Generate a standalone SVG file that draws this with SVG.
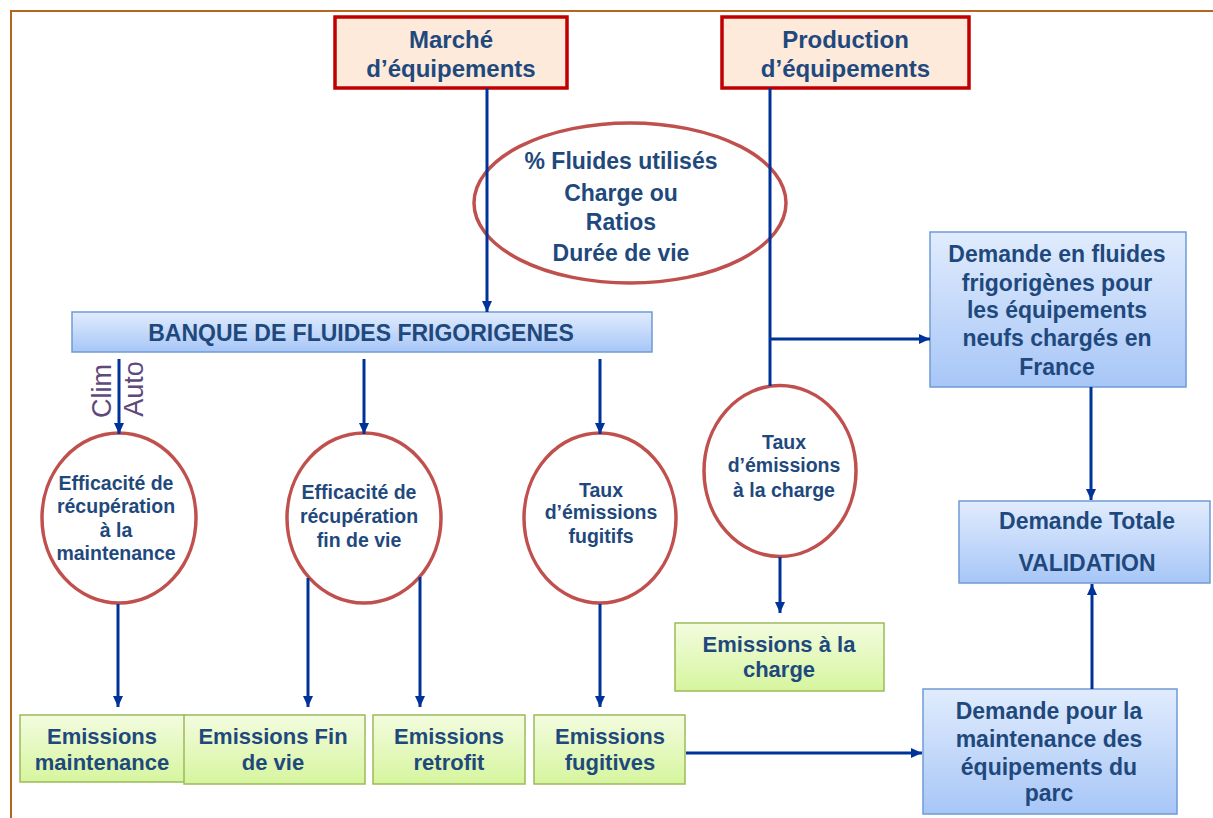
<svg xmlns="http://www.w3.org/2000/svg" width="1213" height="818" viewBox="0 0 1213 818">
<defs>
<linearGradient id="gBlue" x1="0" y1="0" x2="0" y2="1"><stop offset="0" stop-color="#e1ecfd"/><stop offset="1" stop-color="#a7c6f7"/></linearGradient>
<linearGradient id="gGreen" x1="0" y1="0" x2="0" y2="1"><stop offset="0" stop-color="#f3fcdf"/><stop offset="1" stop-color="#d6f59e"/></linearGradient>
<marker id="arr" markerUnits="userSpaceOnUse" markerWidth="11" markerHeight="10" refX="11" refY="5" orient="auto"><path d="M0,0 L11,5 L0,10 z" fill="#003399"/></marker>
<style>
text{font-family:"Liberation Sans",Arial,sans-serif;font-weight:bold;fill:#1f497d;text-anchor:middle}
.red{fill:#fdeadb;stroke:#c00000;stroke-width:3.5}
.blue{fill:url(#gBlue);stroke:#6f9ad6;stroke-width:1.5}
.green{fill:url(#gGreen);stroke:#9bbb59;stroke-width:1.5}
.ell{fill:#fff;stroke:#c0504d;stroke-width:3.5}
.c{stroke:#003399;stroke-width:3;fill:none}
.ca{stroke:#003399;stroke-width:3;fill:none;marker-end:url(#arr)}
.f24{font-size:24px}.f23{font-size:23px}.f22{font-size:22px}.f19{font-size:19.5px}
.pur{font-weight:normal;fill:#5f497a;font-size:27px}
</style>
</defs>
<g id="frame"><path d="M11,818 V11 H1213" fill="none" stroke="#b5651d" stroke-width="2"/></g>
<g id="marche"><rect class="red" x="335" y="17" width="232" height="71"/><text class="f24" x="451" y="47.5">Marché</text><text class="f24" x="451" y="76.5">d’équipements</text></g>
<g id="production"><rect class="red" x="722" y="17" width="247" height="71"/><text class="f24" x="845.5" y="47.5">Production</text><text class="f24" x="845.5" y="76.5">d’équipements</text></g>
<g id="parametres"><ellipse class="ell" cx="630" cy="203" rx="156" ry="80"/><text class="f23" x="621" y="169">% Fluides utilisés</text><text class="f23" x="621" y="201">Charge ou</text><text class="f23" x="621" y="230">Ratios</text><text class="f23" x="621" y="261">Durée de vie</text></g>
<g id="banque"><rect class="blue" x="72" y="312" width="580" height="40"/><text class="f23" x="361" y="341">BANQUE DE FLUIDES FRIGORIGENES</text></g>
<g id="demande-neufs"><rect class="blue" x="930" y="232" width="256" height="155"/><text class="f23" x="1057" y="262">Demande en fluides</text><text class="f23" x="1057" y="291">frigorigènes pour</text><text class="f23" x="1057" y="318">les équipements</text><text class="f23" x="1057" y="346">neufs chargés en</text><text class="f23" x="1057" y="375">France</text></g>
<g id="demande-totale"><rect class="blue" x="959" y="501" width="251" height="82"/><text class="f23" x="1087" y="529">Demande Totale</text><text class="f23" x="1087" y="571">VALIDATION</text></g>
<g id="demande-maintenance"><rect class="blue" x="923" y="689" width="254" height="125"/><text class="f23" x="1049" y="719">Demande pour la</text><text class="f23" x="1049" y="747">maintenance des</text><text class="f23" x="1049" y="775">équipements du</text><text class="f23" x="1049" y="801">parc</text></g>
<g id="clim-auto"><text class="pur" transform="translate(110.5,391) rotate(-90)">Clim</text><text class="pur" transform="translate(143,389) rotate(-90)">Auto</text></g>
<g id="eff-maintenance"><ellipse class="ell" cx="119" cy="518" rx="77" ry="85"/><text class="f19" x="116" y="490">Efficacité de</text><text class="f19" x="116" y="513">récupération</text><text class="f19" x="116" y="537">à la</text><text class="f19" x="116" y="560">maintenance</text></g>
<g id="eff-findevie"><ellipse class="ell" cx="364" cy="518" rx="77" ry="85"/><text class="f19" x="359" y="499">Efficacité de</text><text class="f19" x="359" y="523">récupération</text><text class="f19" x="359" y="547">fin de vie</text></g>
<g id="taux-fugitifs"><ellipse class="ell" cx="600" cy="518" rx="76" ry="85"/><text class="f19" x="601" y="497">Taux</text><text class="f19" x="601" y="519">d’émissions</text><text class="f19" x="601" y="543">fugitifs</text></g>
<g id="taux-charge"><ellipse class="ell" cx="780" cy="471" rx="76" ry="85.5"/><text class="f19" x="784" y="449">Taux</text><text class="f19" x="784" y="472">d’émissions</text><text class="f19" x="784" y="497">à la charge</text></g>
<g id="em-charge"><rect class="green" x="675" y="623" width="209" height="68"/><text class="f22" x="779" y="652">Emissions à la</text><text class="f22" x="779" y="677">charge</text></g>
<g id="em-maintenance"><rect class="green" x="20" y="715" width="165" height="67"/><text class="f22" x="102" y="744">Emissions</text><text class="f22" x="102" y="770">maintenance</text></g>
<g id="em-findevie"><rect class="green" x="184" y="715" width="181" height="69"/><text class="f22" x="273" y="744">Emissions Fin</text><text class="f22" x="273" y="770">de vie</text></g>
<g id="em-retrofit"><rect class="green" x="373" y="715" width="152" height="69"/><text class="f22" x="449" y="744">Emissions</text><text class="f22" x="449" y="770">retrofit</text></g>
<g id="em-fugitives"><rect class="green" x="534" y="715" width="151" height="69"/><text class="f22" x="610" y="744">Emissions</text><text class="f22" x="610" y="770">fugitives</text></g>
<g id="connectors">
<path class="ca" d="M487,88 V312"/>
<path class="c" d="M770,88 V386"/>
<path class="ca" d="M770,339 H930"/>
<path class="ca" d="M1091,387 V500"/>
<path class="ca" d="M1092,689 V584"/>
<path class="ca" d="M780,557 V613"/>
<path class="ca" d="M686,753 H922"/>
<path class="ca" d="M119,359 V434"/>
<path class="ca" d="M364,359 V434"/>
<path class="ca" d="M600,359 V434"/>
<path class="ca" d="M118,604 V707"/>
<path class="ca" d="M308,578 V707"/>
<path class="ca" d="M420,577 V707"/>
<path class="ca" d="M600,604 V707"/>
</g>
</svg>
